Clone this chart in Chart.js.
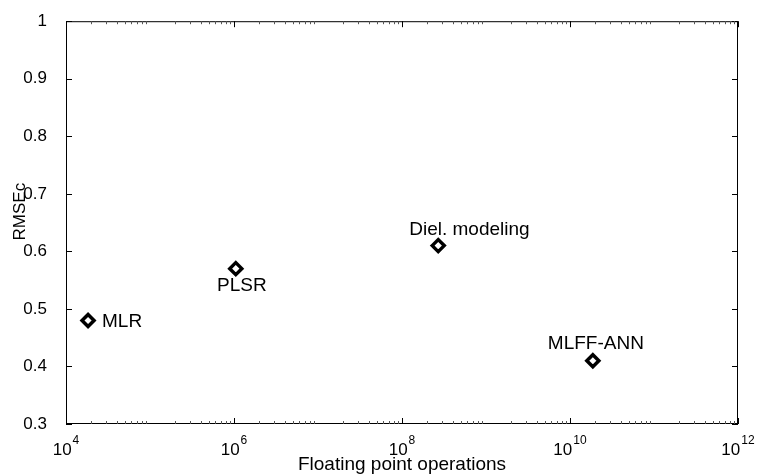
<!DOCTYPE html>
<html><head><meta charset="utf-8">
<script src="https://cdn.jsdelivr.net/npm/chart.js@4/dist/chart.umd.min.js"></script>
<style>html,body{margin:0;padding:0;background:#fff}</style>
</head><body>
<canvas id="c" width="758" height="475"></canvas>
<script>
// ---- data ----
const methods = ['MLR', 'PLSR', 'Diel. modeling', 'MLFF-ANN'];
const flops = [1.83e4, 1.05e6, 2.7e8, 1.87e10];
const rmsec = [0.48, 0.57, 0.61, 0.41];
const xTickExponents = [4, 6, 8, 10, 12];
const yTickValues = [0.3, 0.4, 0.5, 0.6, 0.7, 0.8, 0.9, 1];
const xTitle = 'Floating point operations';
const yTitle = 'RMSEc';

// ---- styling (label placement relative to the marker) ----
const labelPlacement = [
  {dx: 14, dy: 1, align: 'left'},
  {dx: 6, dy: 17, align: 'center'},
  {dx: -29, dy: -16, align: 'left'},
  {dx: -45, dy: -17, align: 'left'}
];
const FONT = '"Liberation Sans", Arial, Helvetica, sans-serif';

const points = flops.map((f, i) => ({x: f, y: rmsec[i]}));

const decor = {
  id: 'decor',
  afterDatasetsDraw(chart) {
    const {ctx, chartArea: a, scales: {x, y}} = chart;
    ctx.save();
    ctx.strokeStyle = '#000';
    ctx.lineWidth = 1;
    // frame
    ctx.strokeRect(a.left + 0.5, a.top + 0.5, a.right - a.left - 1, a.bottom - a.top - 1);
    ctx.beginPath();
    // y major ticks (left & right, inward)
    yTickValues.forEach(v => {
      const py = Math.round(y.getPixelForValue(v)) + 0.5;
      ctx.moveTo(a.left, py); ctx.lineTo(a.left + 6, py);
      ctx.moveTo(a.right, py); ctx.lineTo(a.right - 6, py);
    });
    // x major ticks
    xTickExponents.forEach(e => {
      const px = Math.round(x.getPixelForValue(Math.pow(10, e))) + 0.5;
      ctx.moveTo(px, a.bottom); ctx.lineTo(px, a.bottom - 6);
      ctx.moveTo(px, a.top); ctx.lineTo(px, a.top + 6);
    });
    ctx.stroke();
    // x minor ticks
    ctx.beginPath();
    ctx.strokeStyle = '#555';
    for (let e = xTickExponents[0]; e < xTickExponents[xTickExponents.length - 1]; e++) {
      for (let m = 2; m <= 9; m++) {
        const px = Math.round(x.getPixelForValue(m * Math.pow(10, e))) + 0.5;
        ctx.moveTo(px, a.bottom); ctx.lineTo(px, a.bottom - 3);
        ctx.moveTo(px, a.top); ctx.lineTo(px, a.top + 3);
      }
    }
    ctx.stroke();
    // x tick labels: 10 with superscript exponent
    ctx.fillStyle = '#000';
    ctx.textBaseline = 'alphabetic';
    ctx.textAlign = 'left';
    xTickExponents.forEach(e => {
      const px = x.getPixelForValue(Math.pow(10, e));
      ctx.font = '17px ' + FONT;
      const w1 = ctx.measureText('10').width;
      ctx.font = '12px ' + FONT;
      const w2 = ctx.measureText(String(e)).width;
      const start = px - (w1 + w2 + 1) / 2;
      ctx.font = '17px ' + FONT;
      ctx.fillText('10', start, a.bottom + 31);
      ctx.font = '12px ' + FONT;
      ctx.fillText(String(e), start + w1 + 1, a.bottom + 20);
    });
    // y axis title
    ctx.save();
    ctx.translate(20, (a.top + a.bottom) / 2 - 11);
    ctx.rotate(-Math.PI / 2);
    ctx.font = '17px ' + FONT;
    ctx.textAlign = 'center';
    ctx.textBaseline = 'middle';
    ctx.fillText(yTitle, 0, 0);
    ctx.restore();
    // point labels
    ctx.font = '19px ' + FONT;
    ctx.textBaseline = 'middle';
    methods.forEach((m, i) => {
      const px = x.getPixelForValue(flops[i]);
      const py = y.getPixelForValue(rmsec[i]);
      const p = labelPlacement[i];
      ctx.textAlign = p.align;
      ctx.fillText(m, px + p.dx, py + p.dy);
    });
    ctx.restore();
  }
};

new Chart(document.getElementById('c'), {
  type: 'scatter',
  data: {
    datasets: [{
      data: points,
      pointStyle: 'rectRot',
      pointRadius: 6,
      pointHoverRadius: 6,
      pointBorderWidth: 3.5,
      pointBackgroundColor: '#fff',
      pointBorderColor: '#000'
    }]
  },
  options: {
    responsive: false,
    animation: false,
    events: [],
    layout: {padding: {top: 15, right: 20, left: 0, bottom: 0}},
    plugins: {legend: {display: false}, tooltip: {enabled: false}},
    scales: {
      x: {
        type: 'logarithmic',
        min: Math.pow(10, xTickExponents[0]),
        max: Math.pow(10, xTickExponents[xTickExponents.length - 1]),
        afterBuildTicks: s => { s.ticks = xTickExponents.map(e => ({value: Math.pow(10, e)})); },
        afterFit: s => { s.height = 51; },
        grid: {display: false},
        border: {display: false},
        ticks: {display: false},
        title: {display: true, text: xTitle, color: '#000',
                font: {family: FONT, size: 19}, padding: {top: 0, bottom: -1}}
      },
      y: {
        min: yTickValues[0],
        max: yTickValues[yTickValues.length - 1],
        afterBuildTicks: s => { s.ticks = yTickValues.map(v => ({value: v})); },
        afterFit: s => { s.width = 66; },
        grid: {display: false},
        border: {display: false},
        ticks: {color: '#000', padding: 11, font: {family: FONT, size: 17},
                callback: v => String(Number(v.toFixed(1)))},
        title: {display: false, text: yTitle}
      }
    }
  },
  plugins: [decor]
});
</script>
</body></html>
